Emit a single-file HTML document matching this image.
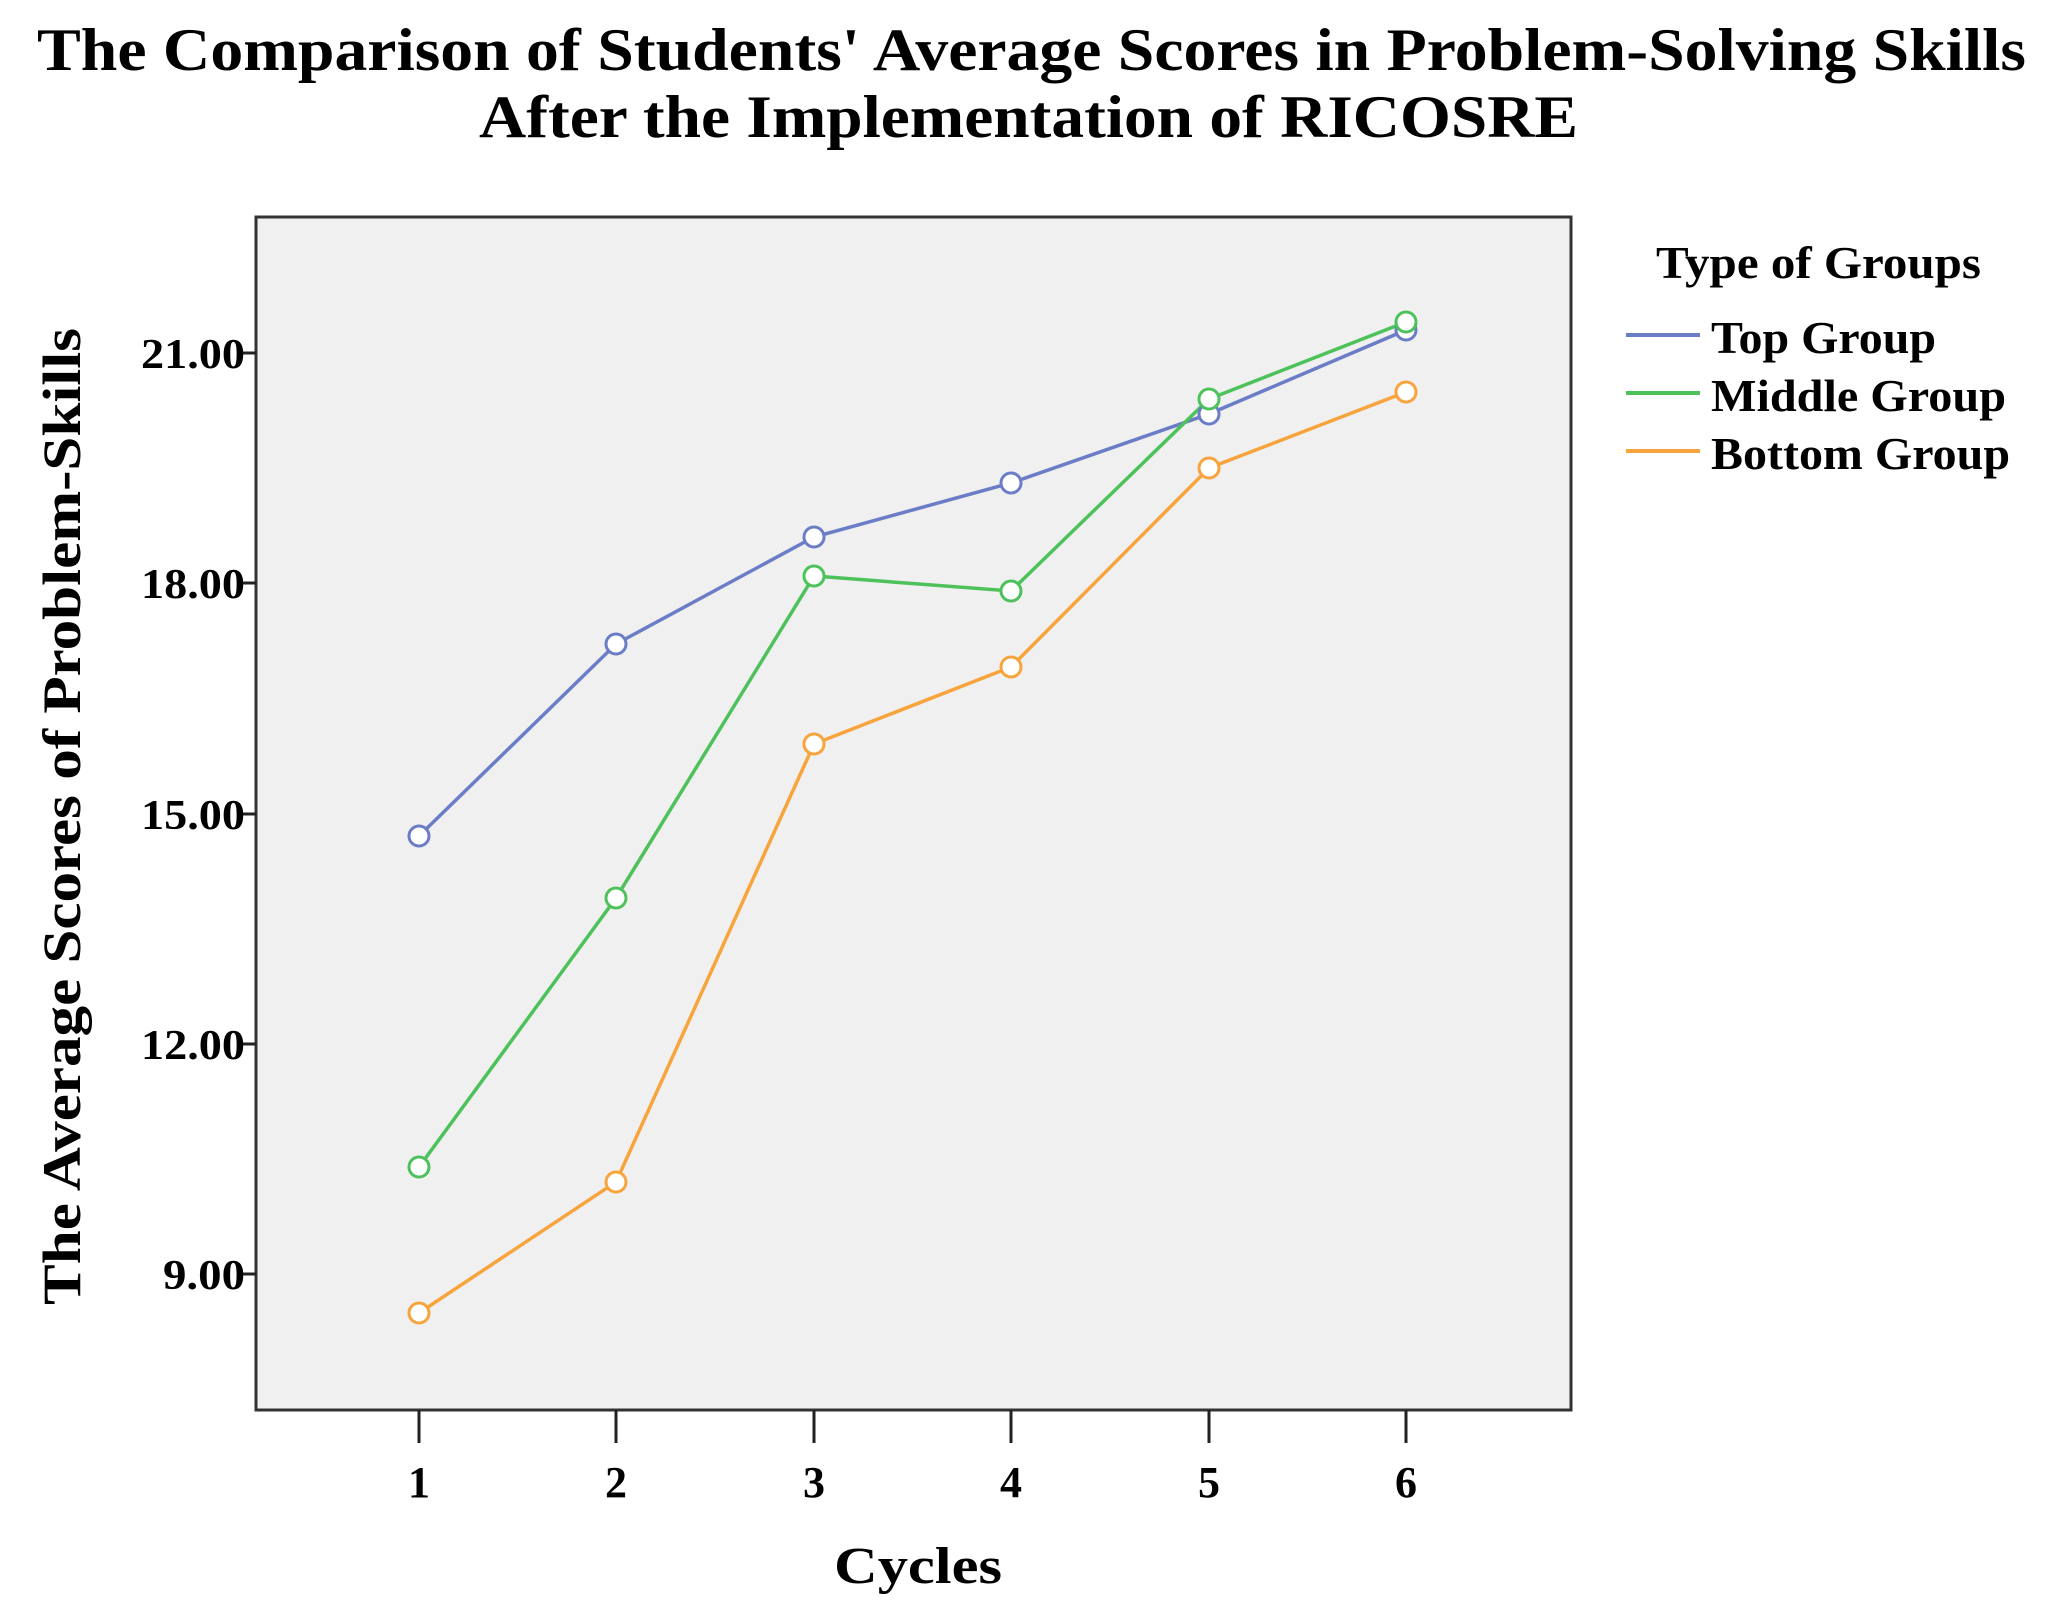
<!DOCTYPE html>
<html><head><meta charset="utf-8"><style>
body{margin:0;background:#fff;}
svg text{font-family:"Liberation Serif",serif;font-weight:bold;fill:#000;}
</style></head><body>
<svg width="2046" height="1610" viewBox="0 0 2046 1610" xmlns="http://www.w3.org/2000/svg">
<text x="37" y="70" font-size="60" textLength="1989" lengthAdjust="spacingAndGlyphs">The Comparison of Students' Average Scores in Problem-Solving Skills</text>
<text x="479" y="137" font-size="60" textLength="1099" lengthAdjust="spacingAndGlyphs">After the Implementation of RICOSRE</text>
<rect x="256" y="217" width="1315" height="1193" fill="#f0f0f0" stroke="#333" stroke-width="3"/>
<g stroke="#222" stroke-width="3">
<line x1="242" y1="353" x2="256" y2="353"/><line x1="242" y1="583" x2="256" y2="583"/><line x1="242" y1="814" x2="256" y2="814"/><line x1="242" y1="1044" x2="256" y2="1044"/><line x1="242" y1="1274" x2="256" y2="1274"/>
<line x1="419" y1="1410" x2="419" y2="1443"/><line x1="616" y1="1410" x2="616" y2="1443"/><line x1="814" y1="1410" x2="814" y2="1443"/><line x1="1011" y1="1410" x2="1011" y2="1443"/><line x1="1209" y1="1410" x2="1209" y2="1443"/><line x1="1406" y1="1410" x2="1406" y2="1443"/>
</g>
<g font-size="42">
<text x="141" y="368" textLength="104" lengthAdjust="spacingAndGlyphs">21.00</text>
<text x="141" y="598" textLength="104" lengthAdjust="spacingAndGlyphs">18.00</text>
<text x="141" y="829" textLength="104" lengthAdjust="spacingAndGlyphs">15.00</text>
<text x="141" y="1059" textLength="104" lengthAdjust="spacingAndGlyphs">12.00</text>
<text x="163" y="1289" textLength="82" lengthAdjust="spacingAndGlyphs">9.00</text>
</g>
<g font-size="44" text-anchor="middle">
<text x="419" y="1497">1</text><text x="616" y="1497">2</text><text x="814" y="1497">3</text><text x="1011" y="1497">4</text><text x="1209" y="1497">5</text><text x="1406" y="1497">6</text>
</g>
<text x="834" y="1583" font-size="52" textLength="168" lengthAdjust="spacingAndGlyphs">Cycles</text>
<text transform="translate(80,1305) rotate(-90)" font-size="54" textLength="977" lengthAdjust="spacingAndGlyphs">The Average Scores of Problem-Skills</text>
<g fill="none" stroke-width="3.5">
<polyline stroke="#6b7dc6" points="419,836 616,644 814,537 1011,483 1209,414 1406,330"/>
<polyline stroke="#4dc25b" points="419,1167 616,898 814,576 1011,591 1209,399 1406,322"/>
<polyline stroke="#f7a43d" points="419,1313 616,1182 814,744 1011,667 1209,468 1406,392"/>
</g>
<g fill="#fff" stroke-width="3">
<g stroke="#6b7dc6"><circle cx="419" cy="836" r="10"/><circle cx="616" cy="644" r="10"/><circle cx="814" cy="537" r="10"/><circle cx="1011" cy="483" r="10"/><circle cx="1209" cy="414" r="10"/><circle cx="1406" cy="330" r="10"/></g>
<g stroke="#4dc25b"><circle cx="419" cy="1167" r="10"/><circle cx="616" cy="898" r="10"/><circle cx="814" cy="576" r="10"/><circle cx="1011" cy="591" r="10"/><circle cx="1209" cy="399" r="10"/><circle cx="1406" cy="322" r="10"/></g>
<g stroke="#f7a43d"><circle cx="419" cy="1313" r="10"/><circle cx="616" cy="1182" r="10"/><circle cx="814" cy="744" r="10"/><circle cx="1011" cy="667" r="10"/><circle cx="1209" cy="468" r="10"/><circle cx="1406" cy="392" r="10"/></g>
</g>
<text x="1656" y="278" font-size="46" textLength="325" lengthAdjust="spacingAndGlyphs">Type of Groups</text>
<g stroke-width="4">
<line x1="1626" y1="335" x2="1700" y2="335" stroke="#6b7dc6"/>
<line x1="1626" y1="393" x2="1700" y2="393" stroke="#4dc25b"/>
<line x1="1626" y1="451" x2="1700" y2="451" stroke="#f7a43d"/>
</g>
<g font-size="46">
<text x="1711" y="353" textLength="225" lengthAdjust="spacingAndGlyphs">Top Group</text>
<text x="1711" y="411" textLength="295" lengthAdjust="spacingAndGlyphs">Middle Group</text>
<text x="1711" y="469" textLength="299" lengthAdjust="spacingAndGlyphs">Bottom Group</text>
</g>
</svg>
</body></html>
